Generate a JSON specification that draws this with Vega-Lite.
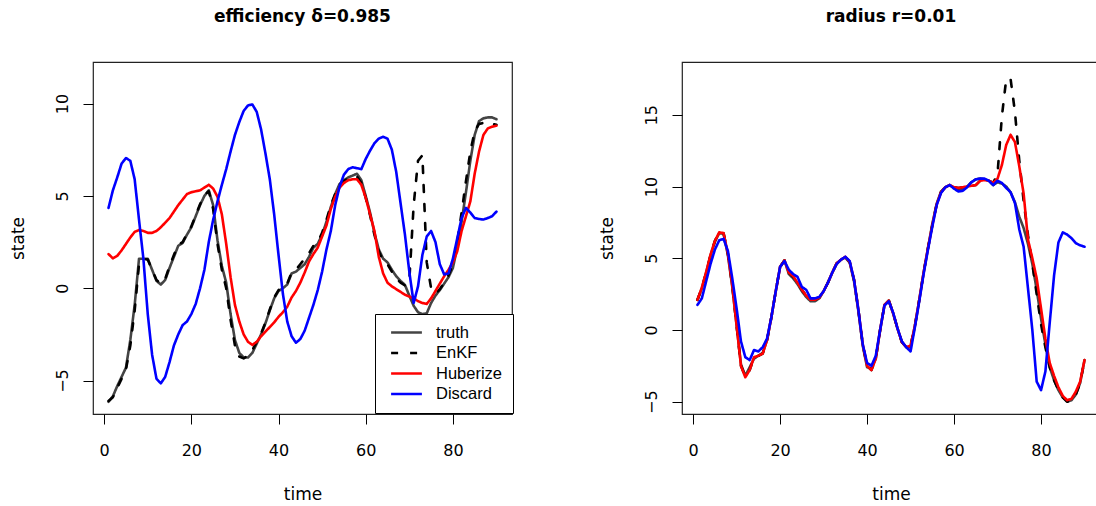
{
  "$schema": "https://vega.github.io/schema/vega-lite/v6.json",
  "autosize": {"type": "none"},
  "padding": {"left": 93, "top": 62, "right": 1003, "bottom": 444},
  "background": "white",
  "bounds": "flush",
  "spacing": 170,
  "config": {
    "view": {"stroke": "#222222", "strokeWidth": 1.2},
    "axis": {"domain": false, "grid": false, "ticks": true, "tickColor": "#000000", "tickSize": 10, "tickWidth": 1, "labelFont": "DejaVu Sans", "labelFontSize": 16, "labelColor": "#000000", "labelFlush": false, "labelOverlap": false, "titleFont": "DejaVu Sans", "titleFontSize": 17, "titleFontWeight": "normal", "titleColor": "#000000"},
    "axisX": {"labelBaseline": "alphabetic", "labelPadding": 31, "titleBaseline": "alphabetic", "titleY": 85},
    "axisY": {"labelAngle": -90, "labelAlign": "center", "labelBaseline": "alphabetic", "labelPadding": 15.6, "titleAngle": -90, "titleBaseline": "alphabetic", "titleAlign": "center", "titleX": -70, "titleY": 176},
    "title": {"font": "DejaVu Sans", "fontSize": 17, "fontWeight": "bold", "color": "#000000", "anchor": "middle", "baseline": "alphabetic", "offset": 36},
    "line": {"strokeWidth": 2.6, "strokeCap": "round", "strokeJoin": "round"}
  },
  "resolve": {"scale": {"color": "independent", "strokeDash": "independent"}, "legend": {"color": "independent", "strokeDash": "independent"}},
  "datasets": {
    "L": [
      {"t":1,"truth":-6.15,"EnKF":-6.1,"Huberize":1.85,"Discard":4.35},
      {"t":2,"truth":-5.85,"EnKF":-5.9,"Huberize":1.62,"Discard":5.3},
      {"t":3,"truth":-5.3,"EnKF":-5.4,"Huberize":1.75,"Discard":6.0},
      {"t":4,"truth":-4.8,"EnKF":-4.9,"Huberize":2.05,"Discard":6.75},
      {"t":5,"truth":-4.3,"EnKF":-4.4,"Huberize":2.4,"Discard":7.05},
      {"t":6,"truth":-2.8,"EnKF":-3.1,"Huberize":2.75,"Discard":6.9},
      {"t":7,"truth":-0.9,"EnKF":-1.2,"Huberize":3.05,"Discard":5.9},
      {"t":8,"truth":1.6,"EnKF":1.3,"Huberize":3.15,"Discard":3.7},
      {"t":9,"truth":1.6,"EnKF":1.6,"Huberize":3.1,"Discard":1.6},
      {"t":10,"truth":1.6,"EnKF":1.55,"Huberize":3.0,"Discard":-1.4},
      {"t":11,"truth":1.0,"EnKF":1.0,"Huberize":3.0,"Discard":-3.6},
      {"t":12,"truth":0.4,"EnKF":0.45,"Huberize":3.1,"Discard":-4.9},
      {"t":13,"truth":0.2,"EnKF":0.25,"Huberize":3.3,"Discard":-5.15},
      {"t":14,"truth":0.45,"EnKF":0.5,"Huberize":3.55,"Discard":-4.8},
      {"t":15,"truth":1.1,"EnKF":1.2,"Huberize":3.8,"Discard":-4.0},
      {"t":16,"truth":1.7,"EnKF":1.8,"Huberize":4.15,"Discard":-3.1},
      {"t":17,"truth":2.3,"EnKF":2.35,"Huberize":4.5,"Discard":-2.5},
      {"t":18,"truth":2.45,"EnKF":2.5,"Huberize":4.8,"Discard":-2.0},
      {"t":19,"truth":2.9,"EnKF":2.95,"Huberize":5.1,"Discard":-1.8},
      {"t":20,"truth":3.3,"EnKF":3.35,"Huberize":5.2,"Discard":-1.4},
      {"t":21,"truth":3.9,"EnKF":3.95,"Huberize":5.25,"Discard":-0.85},
      {"t":22,"truth":4.5,"EnKF":4.55,"Huberize":5.3,"Discard":0.0},
      {"t":23,"truth":5.0,"EnKF":5.05,"Huberize":5.45,"Discard":1.0},
      {"t":24,"truth":5.3,"EnKF":5.25,"Huberize":5.6,"Discard":2.5},
      {"t":25,"truth":4.5,"EnKF":4.3,"Huberize":5.4,"Discard":3.7},
      {"t":26,"truth":2.6,"EnKF":2.4,"Huberize":4.95,"Discard":4.7},
      {"t":27,"truth":1.2,"EnKF":1.0,"Huberize":4.0,"Discard":5.6},
      {"t":28,"truth":0.3,"EnKF":0.0,"Huberize":2.4,"Discard":6.45},
      {"t":29,"truth":-1.4,"EnKF":-1.7,"Huberize":0.6,"Discard":7.4},
      {"t":30,"truth":-2.8,"EnKF":-3.1,"Huberize":-0.9,"Discard":8.3},
      {"t":31,"truth":-3.5,"EnKF":-3.7,"Huberize":-1.8,"Discard":9.0},
      {"t":32,"truth":-3.75,"EnKF":-3.8,"Huberize":-2.5,"Discard":9.6},
      {"t":33,"truth":-3.75,"EnKF":-3.65,"Huberize":-2.9,"Discard":9.9},
      {"t":34,"truth":-3.5,"EnKF":-3.35,"Huberize":-3.07,"Discard":9.95},
      {"t":35,"truth":-3.0,"EnKF":-2.9,"Huberize":-2.9,"Discard":9.55},
      {"t":36,"truth":-2.5,"EnKF":-2.45,"Huberize":-2.6,"Discard":8.6},
      {"t":37,"truth":-1.9,"EnKF":-1.85,"Huberize":-2.35,"Discard":7.3},
      {"t":38,"truth":-1.2,"EnKF":-1.15,"Huberize":-2.1,"Discard":5.9},
      {"t":39,"truth":-0.55,"EnKF":-0.5,"Huberize":-1.85,"Discard":4.0},
      {"t":40,"truth":-0.15,"EnKF":-0.1,"Huberize":-1.55,"Discard":1.8},
      {"t":41,"truth":0.0,"EnKF":0.05,"Huberize":-1.3,"Discard":-0.3},
      {"t":42,"truth":0.2,"EnKF":0.25,"Huberize":-1.0,"Discard":-1.8},
      {"t":43,"truth":0.8,"EnKF":0.85,"Huberize":-0.5,"Discard":-2.6},
      {"t":44,"truth":0.9,"EnKF":1.0,"Huberize":-0.15,"Discard":-2.95},
      {"t":45,"truth":1.1,"EnKF":1.3,"Huberize":0.3,"Discard":-2.75},
      {"t":46,"truth":1.3,"EnKF":1.6,"Huberize":0.85,"Discard":-2.3},
      {"t":47,"truth":1.7,"EnKF":1.9,"Huberize":1.45,"Discard":-1.6},
      {"t":48,"truth":2.2,"EnKF":2.3,"Huberize":1.85,"Discard":-0.9},
      {"t":49,"truth":2.4,"EnKF":2.5,"Huberize":2.2,"Discard":-0.1},
      {"t":50,"truth":2.9,"EnKF":3.0,"Huberize":2.8,"Discard":0.9},
      {"t":51,"truth":3.6,"EnKF":3.7,"Huberize":3.4,"Discard":2.1},
      {"t":52,"truth":4.4,"EnKF":4.5,"Huberize":4.3,"Discard":3.1},
      {"t":53,"truth":5.1,"EnKF":5.1,"Huberize":4.95,"Discard":4.5},
      {"t":54,"truth":5.65,"EnKF":5.6,"Huberize":5.45,"Discard":5.5},
      {"t":55,"truth":5.85,"EnKF":5.8,"Huberize":5.7,"Discard":6.15},
      {"t":56,"truth":6.0,"EnKF":5.95,"Huberize":5.85,"Discard":6.45},
      {"t":57,"truth":6.1,"EnKF":6.0,"Huberize":5.9,"Discard":6.55},
      {"t":58,"truth":6.2,"EnKF":6.05,"Huberize":5.9,"Discard":6.5},
      {"t":59,"truth":5.85,"EnKF":5.7,"Huberize":5.6,"Discard":6.45},
      {"t":60,"truth":5.0,"EnKF":4.9,"Huberize":4.9,"Discard":7.0},
      {"t":61,"truth":4.1,"EnKF":3.95,"Huberize":4.0,"Discard":7.45},
      {"t":62,"truth":3.0,"EnKF":2.9,"Huberize":3.1,"Discard":7.85},
      {"t":63,"truth":2.1,"EnKF":2.0,"Huberize":1.7,"Discard":8.1},
      {"t":64,"truth":1.6,"EnKF":1.5,"Huberize":0.8,"Discard":8.2},
      {"t":65,"truth":1.4,"EnKF":1.3,"Huberize":0.3,"Discard":8.1},
      {"t":66,"truth":1.0,"EnKF":0.9,"Huberize":0.1,"Discard":7.5},
      {"t":67,"truth":0.65,"EnKF":0.55,"Huberize":-0.05,"Discard":6.3},
      {"t":68,"truth":0.4,"EnKF":0.3,"Huberize":-0.2,"Discard":4.6},
      {"t":69,"truth":0.18,"EnKF":0.15,"Huberize":-0.35,"Discard":2.9},
      {"t":70,"truth":-0.4,"EnKF":0.4,"Huberize":-0.45,"Discard":0.9},
      {"t":71,"truth":-0.95,"EnKF":4.5,"Huberize":-0.55,"Discard":-0.8},
      {"t":72,"truth":-1.3,"EnKF":6.9,"Huberize":-0.7,"Discard":0.1},
      {"t":73,"truth":-1.4,"EnKF":7.2,"Huberize":-0.8,"Discard":1.8},
      {"t":74,"truth":-1.36,"EnKF":1.4,"Huberize":-0.85,"Discard":2.8},
      {"t":75,"truth":-0.8,"EnKF":0.0,"Huberize":-0.55,"Discard":3.1},
      {"t":76,"truth":-0.4,"EnKF":-0.3,"Huberize":-0.15,"Discard":2.5},
      {"t":77,"truth":-0.1,"EnKF":-0.05,"Huberize":0.25,"Discard":1.3},
      {"t":78,"truth":0.25,"EnKF":0.3,"Huberize":0.65,"Discard":0.75},
      {"t":79,"truth":0.6,"EnKF":0.7,"Huberize":1.0,"Discard":0.8},
      {"t":80,"truth":1.1,"EnKF":1.3,"Huberize":1.4,"Discard":1.6},
      {"t":81,"truth":2.2,"EnKF":2.5,"Huberize":2.0,"Discard":2.7},
      {"t":82,"truth":3.6,"EnKF":4.1,"Huberize":3.1,"Discard":3.8},
      {"t":83,"truth":5.2,"EnKF":5.8,"Huberize":3.9,"Discard":4.35},
      {"t":84,"truth":6.9,"EnKF":7.4,"Huberize":4.7,"Discard":4.1},
      {"t":85,"truth":8.3,"EnKF":8.5,"Huberize":6.2,"Discard":3.8},
      {"t":86,"truth":9.05,"EnKF":8.9,"Huberize":7.4,"Discard":3.75},
      {"t":87,"truth":9.2,"EnKF":8.95,"Huberize":8.3,"Discard":3.72},
      {"t":88,"truth":9.25,"EnKF":8.95,"Huberize":8.65,"Discard":3.8},
      {"t":89,"truth":9.25,"EnKF":8.9,"Huberize":8.75,"Discard":3.9},
      {"t":90,"truth":9.15,"EnKF":8.85,"Huberize":8.8,"Discard":4.15}
    ],
    "R": [
      {"t":1,"truth":2.1,"EnKF":2.1,"Huberize":2.1,"Discard":1.75},
      {"t":2,"truth":2.9,"EnKF":2.9,"Huberize":2.95,"Discard":2.2},
      {"t":3,"truth":4.0,"EnKF":4.0,"Huberize":4.05,"Discard":3.4},
      {"t":4,"truth":5.2,"EnKF":5.2,"Huberize":5.25,"Discard":4.6},
      {"t":5,"truth":6.15,"EnKF":6.2,"Huberize":6.2,"Discard":5.6},
      {"t":6,"truth":6.75,"EnKF":6.8,"Huberize":6.8,"Discard":6.25},
      {"t":7,"truth":6.7,"EnKF":6.75,"Huberize":6.75,"Discard":6.35},
      {"t":8,"truth":5.2,"EnKF":5.3,"Huberize":5.3,"Discard":5.5},
      {"t":9,"truth":3.0,"EnKF":3.1,"Huberize":3.1,"Discard":3.6},
      {"t":10,"truth":0.3,"EnKF":0.3,"Huberize":0.3,"Discard":1.5},
      {"t":11,"truth":-2.4,"EnKF":-2.5,"Huberize":-2.5,"Discard":-0.8},
      {"t":12,"truth":-3.2,"EnKF":-3.25,"Huberize":-3.3,"Discard":-1.9},
      {"t":13,"truth":-2.6,"EnKF":-2.8,"Huberize":-2.8,"Discard":-2.1},
      {"t":14,"truth":-2.0,"EnKF":-1.95,"Huberize":-1.9,"Discard":-1.4},
      {"t":15,"truth":-1.8,"EnKF":-1.8,"Huberize":-1.8,"Discard":-1.5},
      {"t":16,"truth":-1.6,"EnKF":-1.65,"Huberize":-1.65,"Discard":-1.2},
      {"t":17,"truth":-0.7,"EnKF":-0.7,"Huberize":-0.7,"Discard":-0.6},
      {"t":18,"truth":0.9,"EnKF":0.9,"Huberize":0.9,"Discard":0.9},
      {"t":19,"truth":2.7,"EnKF":2.7,"Huberize":2.7,"Discard":2.7},
      {"t":20,"truth":4.4,"EnKF":4.4,"Huberize":4.4,"Discard":4.4},
      {"t":21,"truth":4.85,"EnKF":4.85,"Huberize":4.85,"Discard":4.8},
      {"t":22,"truth":3.9,"EnKF":4.0,"Huberize":4.0,"Discard":4.2},
      {"t":23,"truth":3.6,"EnKF":3.7,"Huberize":3.75,"Discard":3.9},
      {"t":24,"truth":3.2,"EnKF":3.3,"Huberize":3.3,"Discard":3.7},
      {"t":25,"truth":2.7,"EnKF":2.8,"Huberize":2.8,"Discard":3.0},
      {"t":26,"truth":2.3,"EnKF":2.4,"Huberize":2.4,"Discard":2.8},
      {"t":27,"truth":2.0,"EnKF":2.1,"Huberize":2.1,"Discard":2.2},
      {"t":28,"truth":2.0,"EnKF":2.1,"Huberize":2.1,"Discard":2.2},
      {"t":29,"truth":2.2,"EnKF":2.25,"Huberize":2.25,"Discard":2.3},
      {"t":30,"truth":2.7,"EnKF":2.7,"Huberize":2.7,"Discard":2.7},
      {"t":31,"truth":3.3,"EnKF":3.3,"Huberize":3.3,"Discard":3.3},
      {"t":32,"truth":4.0,"EnKF":4.0,"Huberize":4.0,"Discard":4.0},
      {"t":33,"truth":4.6,"EnKF":4.65,"Huberize":4.65,"Discard":4.6},
      {"t":34,"truth":4.9,"EnKF":4.9,"Huberize":4.9,"Discard":4.9},
      {"t":35,"truth":5.05,"EnKF":5.1,"Huberize":5.1,"Discard":5.1},
      {"t":36,"truth":4.7,"EnKF":4.75,"Huberize":4.75,"Discard":4.8},
      {"t":37,"truth":3.4,"EnKF":3.5,"Huberize":3.5,"Discard":3.5},
      {"t":38,"truth":1.3,"EnKF":1.4,"Huberize":1.4,"Discard":1.4},
      {"t":39,"truth":-1.1,"EnKF":-1.0,"Huberize":-1.0,"Discard":-1.0},
      {"t":40,"truth":-2.6,"EnKF":-2.5,"Huberize":-2.5,"Discard":-2.3},
      {"t":41,"truth":-2.7,"EnKF":-2.8,"Huberize":-2.8,"Discard":-2.5},
      {"t":42,"truth":-2.0,"EnKF":-2.0,"Huberize":-2.0,"Discard":-1.8},
      {"t":43,"truth":0.0,"EnKF":0.0,"Huberize":0.0,"Discard":0.0},
      {"t":44,"truth":1.75,"EnKF":1.75,"Huberize":1.75,"Discard":1.7},
      {"t":45,"truth":2.05,"EnKF":2.05,"Huberize":2.05,"Discard":2.0},
      {"t":46,"truth":1.15,"EnKF":1.15,"Huberize":1.15,"Discard":1.2},
      {"t":47,"truth":0.1,"EnKF":0.1,"Huberize":0.1,"Discard":0.1},
      {"t":48,"truth":-0.85,"EnKF":-0.85,"Huberize":-0.85,"Discard":-0.8},
      {"t":49,"truth":-1.2,"EnKF":-1.2,"Huberize":-1.2,"Discard":-1.2},
      {"t":50,"truth":-1.2,"EnKF":-1.1,"Huberize":-1.1,"Discard":-1.5},
      {"t":51,"truth":0.3,"EnKF":0.3,"Huberize":0.3,"Discard":0.2},
      {"t":52,"truth":2.1,"EnKF":2.1,"Huberize":2.1,"Discard":2.0},
      {"t":53,"truth":4.0,"EnKF":4.0,"Huberize":4.0,"Discard":3.9},
      {"t":54,"truth":5.7,"EnKF":5.7,"Huberize":5.7,"Discard":5.6},
      {"t":55,"truth":7.4,"EnKF":7.3,"Huberize":7.3,"Discard":7.2},
      {"t":56,"truth":8.8,"EnKF":8.75,"Huberize":8.75,"Discard":8.7},
      {"t":57,"truth":9.65,"EnKF":9.6,"Huberize":9.6,"Discard":9.55},
      {"t":58,"truth":9.95,"EnKF":9.95,"Huberize":9.95,"Discard":9.95},
      {"t":59,"truth":10.1,"EnKF":10.1,"Huberize":10.1,"Discard":10.1},
      {"t":60,"truth":9.9,"EnKF":9.95,"Huberize":9.95,"Discard":9.85},
      {"t":61,"truth":9.75,"EnKF":9.9,"Huberize":9.9,"Discard":9.65},
      {"t":62,"truth":9.8,"EnKF":9.95,"Huberize":9.95,"Discard":9.7},
      {"t":63,"truth":10.0,"EnKF":10.0,"Huberize":10.0,"Discard":9.95},
      {"t":64,"truth":10.3,"EnKF":10.05,"Huberize":10.05,"Discard":10.3},
      {"t":65,"truth":10.5,"EnKF":10.1,"Huberize":10.1,"Discard":10.5},
      {"t":66,"truth":10.55,"EnKF":10.4,"Huberize":10.4,"Discard":10.55},
      {"t":67,"truth":10.5,"EnKF":10.45,"Huberize":10.45,"Discard":10.55},
      {"t":68,"truth":10.4,"EnKF":10.4,"Huberize":10.4,"Discard":10.4},
      {"t":69,"truth":10.1,"EnKF":10.25,"Huberize":10.25,"Discard":10.1},
      {"t":70,"truth":10.3,"EnKF":10.9,"Huberize":10.55,"Discard":10.4},
      {"t":71,"truth":10.2,"EnKF":14.9,"Huberize":11.5,"Discard":10.25},
      {"t":72,"truth":10.0,"EnKF":17.5,"Huberize":12.9,"Discard":9.9},
      {"t":73,"truth":9.6,"EnKF":17.5,"Huberize":13.6,"Discard":9.6},
      {"t":74,"truth":8.9,"EnKF":15.2,"Huberize":13.1,"Discard":8.85},
      {"t":75,"truth":7.9,"EnKF":11.8,"Huberize":11.4,"Discard":7.0},
      {"t":76,"truth":7.1,"EnKF":9.0,"Huberize":9.5,"Discard":5.8},
      {"t":77,"truth":6.0,"EnKF":6.6,"Huberize":6.3,"Discard":2.9},
      {"t":78,"truth":4.6,"EnKF":4.6,"Huberize":5.0,"Discard":0.0},
      {"t":79,"truth":2.8,"EnKF":2.5,"Huberize":3.6,"Discard":-3.6},
      {"t":80,"truth":0.8,"EnKF":0.4,"Huberize":1.5,"Discard":-4.2},
      {"t":81,"truth":-1.0,"EnKF":-1.2,"Huberize":-0.6,"Discard":-2.9},
      {"t":82,"truth":-2.6,"EnKF":-2.6,"Huberize":-2.3,"Discard":0.5},
      {"t":83,"truth":-3.5,"EnKF":-3.5,"Huberize":-3.2,"Discard":3.8},
      {"t":84,"truth":-4.2,"EnKF":-4.2,"Huberize":-4.0,"Discard":6.1},
      {"t":85,"truth":-4.7,"EnKF":-4.7,"Huberize":-4.6,"Discard":6.8},
      {"t":86,"truth":-5.0,"EnKF":-5.0,"Huberize":-4.9,"Discard":6.65},
      {"t":87,"truth":-4.9,"EnKF":-4.9,"Huberize":-4.8,"Discard":6.4},
      {"t":88,"truth":-4.5,"EnKF":-4.5,"Huberize":-4.3,"Discard":6.05},
      {"t":89,"truth":-3.7,"EnKF":-3.7,"Huberize":-3.6,"Discard":5.9},
      {"t":90,"truth":-2.1,"EnKF":-2.1,"Huberize":-2.1,"Discard":5.8}
    ]
  },
  "hconcat": [
    {
      "title": "efficiency δ=0.985",
      "width": 419,
      "height": 352,
      "data": {"name": "L"},
      "transform": [{"fold": ["truth", "EnKF", "Huberize", "Discard"], "as": ["series", "v"]}],
      "encoding": {
        "x": {"field": "t", "type": "quantitative", "scale": {"domain": [-2.56, 93.56], "nice": false, "zero": false}, "axis": {"values": [0, 20, 40, 60, 80], "title": "time"}},
        "y": {"field": "v", "type": "quantitative", "scale": {"domain": [-6.81, 12.25], "nice": false, "zero": false}, "axis": {"values": [-5, 0, 5, 10], "title": "state"}},
        "color": {"field": "series", "type": "nominal", "scale": {"domain": ["truth", "EnKF", "Huberize", "Discard"], "range": ["#444444", "#000000", "#ff0000", "#0000ff"]},
          "legend": {"title": null, "orient": "none", "legendX": 282, "legendY": 252, "symbolType": "M-2.2,0H2.2", "symbolSize": 196, "symbolStrokeWidth": 2.6, "symbolOffset": 13, "labelFont": "Liberation Sans", "labelFontSize": 16.5, "labelColor": "#000000", "labelOffset": 21, "padding": 10, "rowPadding": 3.5, "strokeColor": "#000000", "fillColor": "#ffffff", "cornerRadius": 0}},
        "strokeDash": {"field": "series", "type": "nominal", "scale": {"domain": ["truth", "EnKF", "Huberize", "Discard"], "range": [[1, 0], [7, 12], [1, 0], [1, 0]]},
          "legend": {"title": null, "orient": "none", "legendX": 282, "legendY": 252, "symbolType": "M-2.2,0H2.2", "symbolSize": 196, "symbolStrokeWidth": 2.6, "symbolOffset": 13, "labelFont": "Liberation Sans", "labelFontSize": 16.5, "labelColor": "#000000", "labelOffset": 21, "padding": 10, "rowPadding": 3.5, "strokeColor": "#000000", "fillColor": "#ffffff", "cornerRadius": 0}}
      },
      "layer": [
        {"transform": [{"filter": "datum.series === 'truth'"}], "mark": {"type": "line"}},
        {"transform": [{"filter": "datum.series === 'EnKF'"}], "mark": {"type": "line"}},
        {"transform": [{"filter": "datum.series === 'Huberize'"}], "mark": {"type": "line"}},
        {"transform": [{"filter": "datum.series === 'Discard'"}], "mark": {"type": "line"}}
      ]
    },
    {
      "title": "radius r=0.01",
      "width": 418,
      "height": 352,
      "data": {"name": "R"},
      "transform": [{"fold": ["truth", "EnKF", "Huberize", "Discard"], "as": ["series", "v"]}],
      "encoding": {
        "x": {"field": "t", "type": "quantitative", "scale": {"domain": [-2.56, 93.56], "nice": false, "zero": false}, "axis": {"values": [0, 20, 40, 60, 80], "title": "time"}},
        "y": {"field": "v", "type": "quantitative", "scale": {"domain": [-5.86, 18.68], "nice": false, "zero": false}, "axis": {"values": [-5, 0, 5, 10, 15], "title": "state"}},
        "color": {"field": "series", "type": "nominal", "scale": {"domain": ["truth", "EnKF", "Huberize", "Discard"], "range": ["#444444", "#000000", "#ff0000", "#0000ff"]}, "legend": null},
        "strokeDash": {"field": "series", "type": "nominal", "scale": {"domain": ["truth", "EnKF", "Huberize", "Discard"], "range": [[1, 0], [7, 12], [1, 0], [1, 0]]}, "legend": null}
      },
      "layer": [
        {"transform": [{"filter": "datum.series === 'truth'"}], "mark": {"type": "line"}},
        {"transform": [{"filter": "datum.series === 'EnKF'"}], "mark": {"type": "line"}},
        {"transform": [{"filter": "datum.series === 'Huberize'"}], "mark": {"type": "line"}},
        {"transform": [{"filter": "datum.series === 'Discard'"}], "mark": {"type": "line"}}
      ]
    }
  ]
}
